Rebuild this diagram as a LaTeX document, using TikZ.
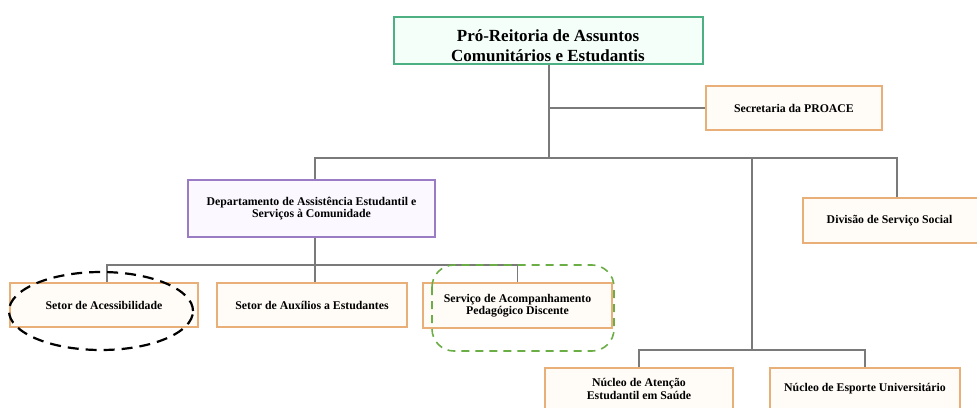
\documentclass[tikz,border=0pt]{standalone}
\usepackage{fontspec}
\setmainfont{Liberation Serif}
\begin{document}
\begin{tikzpicture}[x=1pt,y=-1pt,
  smallfont/.style={font=\bfseries\fontsize{11.8}{12.5}\selectfont},
  box/.style={draw=boxorange,line width=1.6pt,fill=boxfill,align=center,smallfont,inner sep=0pt},
  conn/.style={draw=linegray,line width=1.4pt}]
\definecolor{boxorange}{HTML}{E9AF78}
\definecolor{boxfill}{HTML}{FFFCF7}
\definecolor{topgreen}{HTML}{4DB082}
\definecolor{topfill}{HTML}{F4FFFA}
\definecolor{deptpurple}{HTML}{9A7CC4}
\definecolor{deptfill}{HTML}{FCF8FF}
\definecolor{linegray}{HTML}{7A7A7A}
\definecolor{dashgreen}{HTML}{6AAE45}
\useasboundingbox (0,0) rectangle (977,407);
% nodes
\node[box,draw=topgreen,fill=topfill,minimum width=309pt,minimum height=47pt] (pro) at (548.5,40.5) {};
\node[align=center,font=\bfseries\fontsize{17}{20}\selectfont] (protext) at (548,46) {Pró-Reitoria de Assuntos\\Comunitários e Estudantis};
\node[box,minimum width=176pt,minimum height=44pt] (sec) at (794,108) {Secretaria da PROACE};
\node[box,draw=deptpurple,fill=deptfill,minimum width=247pt,minimum height=57pt] (dep) at (311.5,208.5) {Departamento de Assistência Estudantil e\\Serviços à Comunidade};
\node[box,minimum width=180pt,minimum height=45pt,anchor=west] (div) at (802,220.5) {};
\node[smallfont] (divt) at (889.5,220.5) {Divisão de Serviço Social};
\node[box,minimum width=188pt,minimum height=44pt] (ace) at (104,305) {Setor de Acessibilidade};
\node[box,minimum width=190pt,minimum height=44pt] (aux) at (312,305) {Setor de Auxílios a Estudantes};
\node[box,minimum width=189pt,minimum height=45pt] (sap) at (517.5,305.5) {Serviço de Acompanhamento\\Pedagógico Discente};
\node[box,minimum width=188pt,minimum height=60pt,anchor=north] (nae) at (639,367) {};
\node[align=center,smallfont] (naet) at (639,389) {Núcleo de Atenção\\Estudantil em Saúde};
\node[box,minimum width=190pt,minimum height=60pt,anchor=north] (neu) at (865,367) {};
\node[smallfont] (neut) at (865,389) {Núcleo de Esporte Universitário};
% coordinates
\coordinate (j1) at (549,158);
\coordinate (j2) at (315,265);
\coordinate (j3) at (752,350);
% connectors
\draw[conn] (pro.south -| j1) -- (j1);
\draw[conn] (549,108) -- (sec.west);
\draw[conn] (dep.north -| j2) |- (j1) -| (div.north -| 897,0);
\draw[conn] (j1) -| (j3);
\draw[conn] (dep.south -| j2) -- (aux.north -| j2);
\draw[conn] (ace.north -| 107,0) |- (j2) -| (sap.north);
\draw[conn] (nae.north) |- (j3) -| (neu.north);
% highlights
\draw[black,line width=2.2pt,dash pattern=on 11pt off 7pt] (101,311) ellipse [x radius=92pt,y radius=39pt];
\draw[dashgreen,line width=1.6pt,dash pattern=on 8pt off 6pt,rounded corners=22pt] (432,265) rectangle (614,351);
\end{tikzpicture}
\end{document}
